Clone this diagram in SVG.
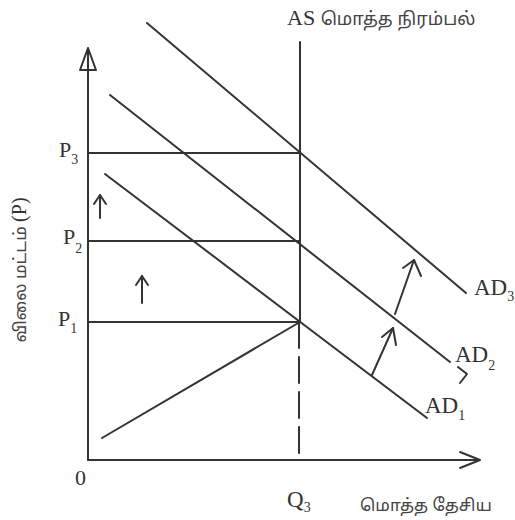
<svg xmlns="http://www.w3.org/2000/svg" width="515" height="520" viewBox="0 0 515 520">
<style>
.ln{stroke:#333;stroke-width:2;fill:none;stroke-linecap:round;stroke-linejoin:round}
.ser{font-family:"Liberation Serif","DejaVu Serif",serif;fill:#333}
.ta{font-family:"Noto Sans Tamil","Noto Sans","DejaVu Sans",sans-serif;fill:#444}
.sub{font-size:14px}
</style>
<rect width="515" height="520" fill="#fff"/>
<g id="axes">
<line class="ln" x1="88" y1="50" x2="88" y2="460"/>
<path class="ln" d="M80,70 L88,48 L96,70 Z" fill="#fff"/>
<line class="ln" x1="88" y1="460" x2="478" y2="460"/>
<path class="ln" d="M460,452 L480,460 L460,468"/>
</g>
<g id="connectors">
<line class="ln" x1="88" y1="153" x2="300" y2="153"/>
<line class="ln" x1="88" y1="241" x2="300" y2="241"/>
<line class="ln" x1="88" y1="322" x2="300" y2="322"/>
<line class="ln" x1="102" y1="438" x2="300" y2="322"/>
<line class="ln" x1="299" y1="322" x2="299" y2="460" stroke-dasharray="26,9" stroke-linecap="butt"/>
</g>
<g id="AS">
<line class="ln" x1="300" y1="42" x2="300" y2="322"/>
<text class="ser" x="287" y="25" font-size="22">AS <tspan class="ta" font-size="18">மொத்த நிரம்பல்</tspan></text>
</g>
<g id="AD3">
<line class="ln" x1="147" y1="23" x2="466" y2="293"/>
<text class="ser" x="474" y="295" font-size="23">AD<tspan class="sub" dy="6">3</tspan></text>
</g>
<g id="AD2">
<line class="ln" x1="110" y1="95" x2="450" y2="362"/>
<text class="ser" x="455" y="362" font-size="23">AD<tspan class="sub" dy="8">2</tspan></text>
<polyline class="ln" points="458,367 467,374 460,383" stroke-width="1.8"/>
</g>
<g id="AD1">
<line class="ln" x1="105" y1="174" x2="427" y2="418"/>
<text class="ser" x="425" y="413" font-size="23">AD<tspan class="sub" dy="7">1</tspan></text>
</g>
<g id="shift-arrows">
<line class="ln" x1="100" y1="218" x2="100" y2="195"/>
<path class="ln" d="M94,204 L100,195 L106,204"/>
<line class="ln" x1="142" y1="303" x2="142" y2="276"/>
<path class="ln" d="M136,285 L142,276 L148,285"/>
<line class="ln" x1="372" y1="375" x2="393" y2="328"/>
<path class="ln" d="M382,337 L393,328 L396,345"/>
<line class="ln" x1="395" y1="314" x2="414" y2="260"/>
<path class="ln" d="M403,268 L414,260 L421,276"/>
</g>
<g id="labels">
<text class="ser" x="59" y="157" font-size="22">P<tspan class="sub" dy="7">3</tspan></text>
<text class="ser" x="63" y="244" font-size="22">P<tspan class="sub" dy="9">2</tspan></text>
<text class="ser" x="58" y="326" font-size="22">P<tspan class="sub" dy="7">1</tspan></text>
<text class="ser" x="75" y="485" font-size="22">0</text>
<text class="ser" x="287" y="507" font-size="23">Q<tspan class="sub" dy="5">3</tspan></text>
<text class="ta" x="360" y="511" font-size="17">மொத்த தேசிய</text>
<text class="ta" transform="translate(26,270) rotate(-90)" text-anchor="middle" font-size="17">விலை மட்டம் <tspan class="ser" font-size="20">(P)</tspan></text>
</g>
</svg>
